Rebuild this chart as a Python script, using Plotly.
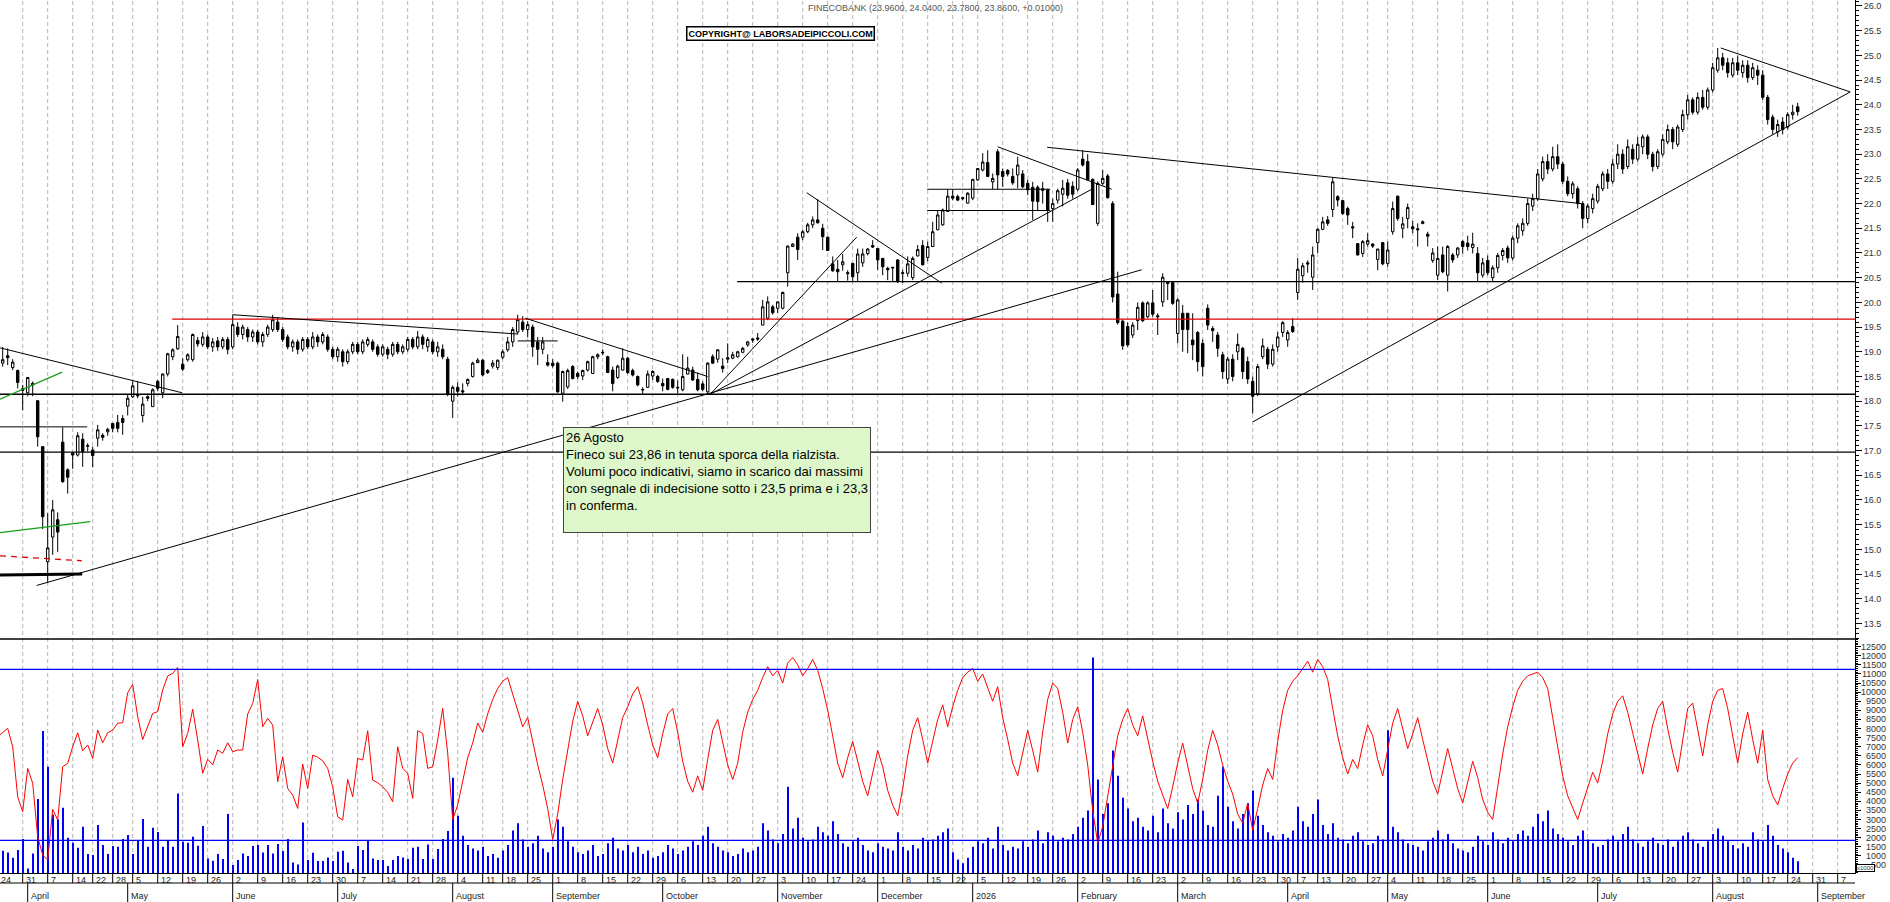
import pandas as pd
import plotly.graph_objects as go

# trading sessions (Borsa Italiana closures removed)
holidays = ["2025-04-18", "2025-04-21", "2025-05-01", "2025-08-15", "2025-12-24", "2025-12-25",
            "2025-12-26", "2025-12-31", "2026-01-01", "2026-04-03", "2026-04-06", "2026-05-01"]
sessions = pd.bdate_range("2025-03-24", "2026-09-11")
sessions = sessions[~sessions.isin(pd.to_datetime(holidays))]

month_names = ["2026", "February", "March", "April", "May", "June", "July", "August",
               "September", "October", "November", "December"]

opens = [
    18.95, 18.77, 18.92, 18.68, 18.62, 18.25, 18.17, 18.36, 18.01, 17.08,
    14.75, 15.25, 15.60, 17.17, 16.61, 16.95, 16.91, 17.23, 17.10, 17.01,
    17.25, 17.31, 17.38, 17.55, 17.57, 17.65, 17.90, 18.09, 18.14, 17.71,
    18.09, 17.89, 18.40, 18.17, 18.55, 18.90, 19.06, 18.75, 18.84, 18.84,
    19.23, 19.15, 19.30, 19.10, 19.22, 19.10, 19.25, 19.10, 19.50, 19.35,
    19.45, 19.30, 19.40, 19.20, 19.35, 19.45, 19.60, 19.45, 19.30, 19.10,
    19.20, 19.05, 19.25, 19.10, 19.30, 19.20, 19.30, 19.05, 18.90, 19.00,
    18.80, 19.00, 19.15, 19.00, 19.15, 19.20, 19.10, 18.95, 19.05, 18.95,
    19.15, 19.00, 19.05, 19.25, 19.10, 19.30, 19.10, 19.20, 19.00, 19.05,
    18.85, 18.00, 18.28, 18.21, 18.36, 18.50, 18.78, 18.83, 18.62, 18.71,
    18.68, 18.89, 19.04, 19.20, 19.40, 19.60, 19.45, 19.50, 19.20, 19.05,
    18.78, 18.77, 18.77, 18.16, 18.29, 18.70, 18.56, 18.51, 18.63, 18.56,
    18.90, 18.99, 18.90, 18.63, 18.48, 18.63, 18.87, 18.62, 18.50, 18.24,
    18.28, 18.51, 18.50, 18.36, 18.46, 18.44, 18.28, 18.23, 18.55, 18.63,
    18.44, 18.35, 18.19, 18.90, 18.85, 18.71, 18.85, 18.87, 18.90, 18.99,
    19.14, 19.26, 19.28, 19.54, 19.68, 19.91, 19.88, 19.88, 20.60, 21.13,
    21.32, 21.32, 21.43, 21.57, 21.67, 21.50, 21.32, 20.78, 20.67, 20.76,
    20.58, 20.79, 20.60, 20.80, 20.99, 21.15, 21.09, 20.89, 20.69, 20.71,
    20.86, 20.60, 20.59, 20.50, 20.94, 21.15, 20.91, 21.13, 21.47, 21.57,
    21.84, 22.15, 22.14, 22.12, 22.01, 22.11, 22.48, 22.68, 22.83, 22.44,
    23.05, 22.65, 22.67, 22.55, 22.58, 22.60, 22.41, 22.33, 22.33, 22.30,
    22.28, 21.90, 22.07, 22.19, 22.42, 22.35, 22.29, 22.90, 22.85, 22.49,
    21.60, 22.41, 22.56, 22.00, 20.17, 19.62, 19.51, 19.34, 19.63, 19.99,
    19.71, 19.99, 19.73, 20.01, 20.41, 20.40, 19.37, 19.78, 19.78, 19.24,
    19.39, 19.17, 19.88, 19.47, 19.34, 18.94, 18.45, 18.85, 19.00, 19.07,
    18.80, 18.40, 18.15, 18.90, 19.05, 18.75, 19.10, 19.39, 19.24, 19.51,
    20.20, 20.54, 20.80, 20.51, 21.21, 21.48, 21.67, 21.88, 22.14, 22.06,
    21.90, 21.53, 21.19, 20.99, 21.18, 21.18, 20.87, 21.21, 20.79, 21.43,
    22.15, 21.50, 21.70, 21.53, 21.49, 21.63, 21.38, 20.85, 20.55, 20.96,
    20.55, 20.96, 20.96, 21.23, 21.20, 21.11, 20.99, 20.55, 20.85, 20.50,
    20.70, 20.95, 21.10, 20.90, 21.30, 21.45, 21.60, 21.95, 22.10, 22.50,
    22.85, 22.70, 22.95, 22.80, 22.45, 22.20, 22.30, 22.00, 21.70, 21.90,
    22.05, 22.30, 22.60, 22.45, 22.80, 23.00, 22.75, 23.10, 22.90, 23.15,
    23.35, 23.00, 22.75, 23.00, 23.25, 23.50, 23.20, 23.50, 23.80, 24.10,
    23.85, 24.15, 23.95, 24.30, 24.70, 24.95, 24.85, 24.60, 24.85, 24.65,
    24.80, 24.55, 24.70, 24.60, 24.15, 23.75, 23.45, 23.65, 23.55, 23.80,
    23.96,
]
highs = [
    19.15, 19.10, 19.07, 18.85, 18.64, 18.33, 18.49, 18.40, 18.02, 17.08,
    15.73, 16.00, 15.75, 17.47, 16.64, 16.96, 17.37, 17.35, 17.15, 17.08,
    17.52, 17.35, 17.46, 17.55, 17.72, 17.72, 18.13, 18.40, 18.40, 18.09,
    18.12, 18.26, 18.43, 18.56, 18.98, 19.07, 19.54, 18.87, 18.97, 19.37,
    19.30, 19.40, 19.35, 19.28, 19.30, 19.30, 19.30, 19.75, 19.60, 19.55,
    19.50, 19.45, 19.45, 19.40, 19.55, 19.75, 19.70, 19.50, 19.35, 19.25,
    19.25, 19.30, 19.30, 19.40, 19.35, 19.40, 19.35, 19.10, 19.10, 19.05,
    19.05, 19.20, 19.20, 19.25, 19.30, 19.25, 19.15, 19.15, 19.10, 19.20,
    19.20, 19.15, 19.30, 19.30, 19.42, 19.35, 19.30, 19.25, 19.20, 19.15,
    18.90, 18.32, 18.38, 18.36, 18.46, 18.80, 18.87, 18.85, 18.65, 18.83,
    18.84, 19.05, 19.30, 19.50, 19.75, 19.72, 19.62, 19.55, 19.30, 19.30,
    18.95, 18.85, 18.80, 18.62, 18.66, 18.73, 18.60, 18.64, 18.82, 18.92,
    18.97, 19.05, 18.92, 18.70, 18.74, 19.07, 18.90, 18.66, 18.52, 18.28,
    18.62, 18.63, 18.53, 18.46, 18.47, 18.46, 18.42, 18.95, 18.90, 18.70,
    18.58, 18.40, 18.79, 18.95, 19.05, 18.87, 19.17, 19.00, 19.02, 19.10,
    19.22, 19.27, 19.38, 20.05, 20.12, 19.95, 20.02, 20.22, 21.15, 21.20,
    21.40, 21.47, 21.61, 21.74, 22.09, 21.59, 21.33, 20.93, 20.86, 20.98,
    20.65, 20.80, 21.09, 21.09, 21.10, 21.26, 21.10, 20.90, 20.72, 20.72,
    20.87, 20.66, 20.93, 20.93, 21.16, 21.26, 21.23, 21.63, 21.87, 21.90,
    22.29, 22.28, 22.18, 22.14, 22.23, 22.50, 22.72, 23.02, 23.08, 22.61,
    23.10, 22.71, 22.70, 22.71, 22.95, 22.68, 22.48, 22.44, 22.37, 22.44,
    22.30, 22.10, 22.30, 22.48, 22.50, 22.45, 22.72, 23.08, 23.00, 22.51,
    22.45, 22.68, 22.60, 22.05, 20.62, 19.65, 19.60, 19.60, 20.00, 20.02,
    20.02, 20.25, 19.78, 20.59, 20.42, 20.42, 20.08, 19.95, 19.78, 19.78,
    19.42, 19.25, 19.96, 19.52, 19.40, 19.00, 18.90, 18.95, 19.37, 19.10,
    18.90, 18.50, 18.75, 19.27, 19.10, 19.15, 19.40, 19.62, 19.44, 19.68,
    20.90, 20.80, 20.85, 21.13, 21.50, 21.73, 21.75, 22.53, 22.17, 22.07,
    21.94, 21.63, 21.20, 21.26, 21.40, 21.20, 21.08, 21.22, 21.23, 22.04,
    22.16, 21.73, 22.00, 21.65, 21.60, 21.66, 21.43, 21.10, 21.13, 21.13,
    21.16, 21.00, 21.12, 21.26, 21.35, 21.41, 21.12, 20.90, 20.95, 20.75,
    21.00, 21.10, 21.15, 21.35, 21.60, 21.70, 22.10, 22.20, 22.70, 22.95,
    23.00, 23.15, 23.20, 22.85, 22.55, 22.45, 22.35, 22.05, 22.00, 22.20,
    22.40, 22.65, 22.70, 22.90, 23.20, 23.10, 23.30, 23.20, 23.35, 23.40,
    23.40, 23.05, 23.10, 23.40, 23.60, 23.55, 23.60, 23.90, 24.20, 24.15,
    24.25, 24.30, 24.35, 24.85, 25.15, 25.05, 24.95, 24.95, 25.00, 24.90,
    24.90, 24.85, 24.80, 24.70, 24.20, 23.80, 23.70, 23.75, 23.85, 24.00,
    24.04,
]
lows = [
    18.85, 18.70, 18.73, 18.63, 18.26, 17.82, 18.10, 18.10, 17.08, 15.41,
    14.32, 14.89, 14.95, 16.35, 16.13, 16.63, 16.88, 16.67, 16.98, 16.66,
    17.08, 17.20, 17.30, 17.37, 17.37, 17.32, 17.71, 18.06, 18.06, 17.57,
    18.00, 17.89, 18.20, 18.06, 18.50, 18.83, 19.04, 18.61, 18.80, 18.80,
    19.10, 19.10, 19.05, 19.00, 19.02, 19.05, 18.95, 19.05, 19.30, 19.25,
    19.20, 19.20, 19.15, 19.10, 19.30, 19.40, 19.40, 19.20, 19.05, 19.00,
    18.95, 19.00, 19.05, 19.05, 19.10, 19.15, 19.00, 18.85, 18.80, 18.70,
    18.75, 18.95, 18.95, 18.95, 19.10, 19.00, 18.90, 18.90, 18.85, 18.90,
    18.95, 18.95, 19.00, 19.05, 19.05, 19.05, 19.00, 18.95, 18.90, 18.85,
    18.10, 17.66, 18.10, 18.12, 18.30, 18.48, 18.77, 18.50, 18.55, 18.66,
    18.63, 18.85, 19.00, 19.10, 19.35, 19.40, 19.30, 18.90, 18.73, 18.95,
    18.70, 18.68, 18.17, 17.99, 18.25, 18.44, 18.45, 18.43, 18.60, 18.55,
    18.85, 18.93, 18.57, 18.20, 18.45, 18.62, 18.55, 18.50, 18.30, 18.15,
    18.27, 18.43, 18.37, 18.20, 18.22, 18.25, 18.16, 18.20, 18.54, 18.41,
    18.20, 18.20, 18.13, 18.76, 18.78, 18.58, 18.77, 18.85, 18.88, 18.97,
    19.10, 19.18, 19.22, 19.54, 19.64, 19.75, 19.78, 19.86, 20.32, 21.12,
    20.86, 21.26, 21.40, 21.50, 21.60, 21.06, 21.04, 20.62, 20.42, 20.64,
    20.44, 20.42, 20.42, 20.72, 20.95, 21.10, 20.66, 20.55, 20.45, 20.41,
    20.39, 20.39, 20.52, 20.45, 20.93, 20.75, 20.83, 21.12, 21.46, 21.55,
    21.83, 22.07, 22.05, 22.07, 22.00, 22.07, 22.46, 22.65, 22.54, 22.29,
    22.29, 22.34, 22.55, 22.38, 22.31, 22.31, 22.17, 21.67, 21.87, 22.00,
    21.63, 21.63, 22.00, 21.94, 22.10, 22.10, 22.25, 22.75, 22.48, 21.97,
    21.55, 22.38, 22.10, 20.00, 19.55, 19.04, 19.10, 19.28, 19.44, 19.60,
    19.68, 19.71, 19.34, 19.91, 20.05, 19.95, 19.17, 19.00, 18.97, 18.83,
    18.60, 18.50, 19.44, 19.20, 18.90, 18.45, 18.35, 18.40, 18.83, 18.45,
    18.35, 17.75, 18.10, 18.85, 18.65, 18.70, 19.00, 19.30, 19.10, 19.38,
    20.05, 20.40, 20.60, 20.25, 21.00, 21.46, 21.55, 21.73, 21.94, 21.77,
    21.57, 21.30, 20.95, 20.92, 21.13, 21.10, 20.65, 20.75, 20.72, 21.37,
    21.65, 21.30, 21.50, 21.40, 21.13, 21.58, 21.13, 20.80, 20.45, 20.59,
    20.22, 20.80, 20.90, 20.99, 21.05, 20.99, 20.42, 20.50, 20.55, 20.43,
    20.60, 20.85, 20.80, 20.85, 21.20, 21.35, 21.55, 21.85, 22.05, 22.45,
    22.60, 22.65, 22.70, 22.40, 22.15, 22.10, 21.90, 21.50, 21.60, 21.80,
    22.00, 22.25, 22.30, 22.40, 22.70, 22.60, 22.70, 22.80, 22.85, 23.00,
    22.90, 22.65, 22.70, 22.95, 23.20, 23.10, 23.15, 23.45, 23.70, 23.80,
    23.80, 23.90, 23.90, 24.25, 24.65, 24.70, 24.55, 24.55, 24.60, 24.55,
    24.45, 24.50, 24.40, 24.10, 23.60, 23.40, 23.35, 23.40, 23.50, 23.70,
    23.78,
]
closes = [
    19.05, 18.84, 18.88, 18.79, 18.38, 18.22, 18.48, 18.33, 17.28, 15.66,
    15.03, 15.80, 15.35, 16.37, 16.46, 16.91, 17.30, 16.98, 17.09, 16.90,
    17.42, 17.27, 17.43, 17.45, 17.45, 17.57, 18.06, 18.31, 18.11, 17.94,
    18.06, 18.23, 18.26, 18.55, 18.96, 19.04, 19.31, 18.65, 18.94, 19.35,
    19.16, 19.30, 19.10, 19.20, 19.10, 19.25, 19.05, 19.55, 19.35, 19.50,
    19.30, 19.40, 19.20, 19.35, 19.50, 19.65, 19.45, 19.25, 19.10, 19.20,
    19.05, 19.25, 19.10, 19.30, 19.20, 19.35, 19.05, 18.90, 19.05, 18.80,
    19.00, 19.15, 19.00, 19.20, 19.25, 19.05, 18.95, 19.10, 18.95, 19.15,
    19.00, 19.10, 19.25, 19.10, 19.30, 19.15, 19.25, 19.00, 19.10, 18.90,
    18.15, 18.28, 18.20, 18.19, 18.44, 18.77, 18.83, 18.53, 18.58, 18.77,
    18.83, 19.00, 19.20, 19.45, 19.65, 19.45, 19.55, 19.10, 19.05, 19.20,
    18.73, 18.72, 18.19, 18.60, 18.62, 18.46, 18.50, 18.62, 18.80, 18.90,
    18.94, 18.98, 18.58, 18.36, 18.71, 18.87, 18.58, 18.53, 18.33, 18.23,
    18.55, 18.60, 18.40, 18.31, 18.24, 18.28, 18.27, 18.50, 18.67, 18.43,
    18.23, 18.24, 18.77, 18.77, 19.04, 18.66, 18.88, 18.94, 19.00, 19.07,
    19.20, 19.24, 19.26, 19.91, 20.01, 19.79, 20.01, 20.20, 21.14, 21.18,
    21.07, 21.43, 21.57, 21.67, 21.61, 21.33, 21.05, 20.64, 20.62, 20.82,
    20.60, 20.52, 20.98, 20.98, 21.08, 21.12, 20.86, 20.72, 20.66, 20.70,
    20.42, 20.59, 20.78, 20.89, 21.07, 20.76, 21.13, 21.43, 21.77, 21.87,
    22.15, 22.11, 22.07, 22.10, 22.21, 22.49, 22.71, 22.84, 22.55, 22.51,
    22.58, 22.55, 22.60, 22.42, 22.78, 22.34, 22.28, 22.05, 22.04, 22.27,
    21.87, 22.00, 22.26, 22.31, 22.17, 22.19, 22.68, 22.78, 22.48, 21.98,
    22.41, 22.51, 22.12, 20.11, 19.59, 19.12, 19.14, 19.54, 19.90, 19.63,
    19.99, 19.76, 19.71, 20.51, 20.38, 19.98, 20.05, 19.45, 19.45, 19.14,
    18.80, 18.70, 19.54, 19.43, 19.07, 18.60, 18.85, 18.50, 19.15, 18.60,
    18.45, 18.10, 18.70, 19.12, 18.75, 19.05, 19.30, 19.59, 19.39, 19.41,
    20.67, 20.74, 20.78, 20.96, 21.48, 21.63, 21.60, 22.44, 22.07, 21.80,
    21.77, 21.51, 20.96, 21.23, 21.25, 21.14, 21.08, 20.78, 21.06, 21.90,
    21.70, 21.59, 21.92, 21.49, 21.47, 21.60, 21.34, 21.00, 20.89, 20.62,
    21.13, 20.86, 21.10, 21.13, 21.13, 21.18, 20.60, 20.80, 20.60, 20.70,
    20.95, 21.05, 20.90, 21.30, 21.55, 21.60, 22.00, 22.10, 22.60, 22.85,
    22.70, 22.95, 22.80, 22.45, 22.20, 22.40, 22.00, 21.70, 21.95, 22.10,
    22.35, 22.60, 22.45, 22.80, 23.00, 22.70, 23.15, 22.90, 23.20, 23.35,
    23.00, 22.75, 23.05, 23.30, 23.50, 23.25, 23.55, 23.80, 24.10, 23.85,
    24.15, 23.95, 24.30, 24.75, 24.95, 24.80, 24.65, 24.85, 24.70, 24.80,
    24.55, 24.75, 24.60, 24.15, 23.70, 23.50, 23.60, 23.50, 23.80, 23.85,
    23.86,
]
# volumes in thousands of shares
volumes = [
    1400, 1283, 1190, 900, 1320, 1925, 300, 1136, 4125, 7864,
    5900, 3280, 3000, 3650, 2000, 1723, 1450, 2600, 1100, 1045,
    2700, 1600, 1100, 1540, 1500, 1925, 2145, 1100, 1870, 3025,
    1500, 2550, 2310, 1500, 1815, 1500, 4436, 1778, 1723, 2053,
    1558, 2640, 860, 733, 1100, 825, 3300, 495, 770, 1136,
    990, 1540, 1595, 1190, 1595, 1136, 1650, 1265, 1925, 640,
    530, 2840, 770, 1173, 715, 715, 915, 715, 1228, 1283,
    640, 275, 1540, 1320, 1815, 860, 770, 770, 440, 770,
    990, 915, 825, 1450, 1500, 825, 1630, 825, 1375, 1925,
    2365, 5300, 3200, 2100, 1600, 1400, 1300, 1500, 1000, 1100,
    900, 1300, 1600, 2400, 2800, 1900, 1500, 1700, 2100, 1400,
    1200, 1500, 3000, 2600, 1800, 1500, 1200, 1100, 1300, 1600,
    1000, 1100, 1700, 2000, 1400, 1300, 1600, 1200, 1500, 1100,
    1300, 900, 1000, 1200, 1600, 1400, 1100, 1300, 1500, 1800,
    1600, 2100, 2600, 1700, 1500, 1300, 1200, 1000, 1100, 1400,
    1200, 1300, 1500, 2800, 2400, 1900, 1700, 2200, 4800, 2500,
    3100, 2000, 1800, 1900, 2600, 2300, 2100, 2900, 2200, 1700,
    1500, 1800, 2000, 1600, 1300, 1200, 1700, 1500, 1400, 1300,
    2300, 1500, 1300, 1600, 1400, 2000, 1800, 1900, 2100, 2300,
    2500, 1200, 800, 600, 900, 1500, 1800, 1700, 2000, 1400,
    2600, 1600, 1300, 1500, 1400, 1800, 1500, 1900, 2400, 1700,
    2300, 2100, 1800, 2000, 1900, 2200, 2600, 3100, 3500, 11900,
    5200, 3300, 3900, 6800, 5400, 4200, 3600, 2900, 3100, 2600,
    2400, 3200, 2300, 3600, 2800, 2500, 3400, 3000, 3800, 3300,
    4100, 3500, 2700, 2600, 4300, 5900, 3700, 2900, 2500, 3300,
    3900, 4600, 3200, 2700, 2300, 2100, 1800, 2200, 2000, 2400,
    3700, 2900, 2600, 3300, 4100, 2700, 2200, 2800, 2000, 1900,
    1700, 2100, 2300, 1800, 1600, 1700, 2100, 1900, 7900, 2600,
    2300, 1900, 1700, 1600, 1500, 1300, 1800, 2000, 2400, 1900,
    2200, 1700, 1400, 1300, 1200, 1500, 2100, 1800, 1600, 2300,
    1900, 1700, 2000, 1800, 2200, 2400, 2100, 2600, 3300, 2900,
    3500, 2500, 2200, 2000, 1800, 1600, 2100, 2400, 1900, 1700,
    1500, 1600, 1900, 2100, 1800, 2200, 2600, 1900, 1700, 1500,
    1800, 2000, 1700, 1600, 1900, 1500, 1800, 2100, 2300, 1900,
    1700, 1500, 1800, 2200, 2500, 2100, 1800, 1600, 1400, 1700,
    1500, 2300, 1900, 1800, 2700, 2100, 1600, 1400, 1200, 900,
    700,
]
# red oscillator plotted on the volume scale
oscillator = [
    7550, 7800, 8010, 7000, 4250, 3430, 5810, 4990, 2050, 1045,
    770, 3560, 2970, 5900, 6090, 7000, 7770, 6780, 7100, 6360,
    7920, 7220, 7770, 7920, 8290, 8320, 9970, 10430, 8650, 7400,
    8100, 8830, 8930, 10120, 10890, 11030, 11360, 7000, 7730, 9060,
    7370, 5540, 6310, 6000, 6820, 6640, 7220, 6730, 6820, 6820,
    8800, 9380, 10700, 8100, 8560, 8190, 5080, 6450, 4710, 4340,
    3610, 6050, 4710, 6540, 6420, 6230, 5810, 4800, 3150, 2970,
    5200, 4250, 6360, 6270, 7880, 5170, 5020, 4800, 4490, 3980,
    7000, 5810, 5540, 4160, 7880, 7730, 5810, 5900, 7370, 9110,
    6640, 3000, 3800, 5200, 6400, 7200, 8300, 7800, 8800, 9600,
    10200, 10600, 10800, 9900, 9000, 8100, 8600, 7200, 6000, 4900,
    3600, 1900, 3300, 5200, 6900, 8400, 9500, 8700, 7600, 8300,
    9100, 8200, 6900, 6100, 7400, 8600, 9200, 9900, 10300, 9400,
    8200, 7100, 6400, 7700, 8800, 9100, 7800, 6200, 5100, 4500,
    5400, 4600, 6300, 7900, 8500, 7300, 6000, 5200, 6100, 7800,
    8900, 9600, 10100, 10800, 11400, 10900, 11200, 10500, 11600, 11900,
    11500, 10900, 11300, 11800, 11200, 10200, 9000, 7600, 6100, 5300,
    6400, 7300, 6200, 5100, 4300, 5600, 6800, 5900, 4600, 3800,
    3200, 4700, 6500, 7900, 8600, 7400, 6100, 7300, 8500, 9300,
    8100, 9200, 10100, 10800, 11100, 11300, 10600, 11000, 10200, 9500,
    10300, 8600, 7400, 6100, 5400, 6700, 7900, 6800, 5600, 7800,
    9600, 10500, 10200, 8900, 7200, 8500, 9200, 7800, 6000, 3500,
    1700, 2600, 4300, 6100, 7600, 8500, 9100, 8200, 7600, 8700,
    7400, 6200, 5100, 4300, 3600, 4800, 6100, 7200, 5900, 4700,
    3900, 5200, 6800, 7900, 7100, 6000, 5100, 4400, 3300, 2800,
    3900, 2400, 3600, 4900, 5800, 5200, 7300, 9000, 10100, 10600,
    10900, 11300, 11700, 11100, 11800, 11400, 10700, 9100, 7600, 6400,
    5500, 6300, 5800, 7100, 8200, 7600, 6300, 5400, 6800, 8300,
    9100, 8000, 6900, 7700, 8600, 7400, 6200, 5100, 4400, 5600,
    6900, 5800, 4700, 3900, 5000, 6200, 5300, 4100, 3400, 3000,
    4800, 6600, 8100, 9200, 10100, 10600, 10900, 11000, 11100, 10800,
    10200, 8600, 7100, 5400, 4300, 3600, 3000, 3900, 4800, 5600,
    5000, 6200, 7700, 8800, 9500, 9800, 8900, 7800, 6600, 5500,
    6900, 8200, 9100, 9500, 8000, 6700, 5600, 7400, 9100, 9400,
    7900, 6500, 8200, 9500, 10100, 10200, 9100, 7600, 6100, 7700,
    8900, 7400, 6100, 7900, 5200, 4300, 3800, 4700, 5500, 6100,
    6400,
]
volume_ticks = list(range(500, 13000, 500))

# analysis lines on the price pane: (bar0, price0, bar1, price1)
trend_lines = [
    (0.46, 19.08, 36.9, 18.17),
    (7.8, 14.27, 228.8, 20.66),
    (142.5, 18.14, 219.0, 22.30),
    (142.5, 18.14, 171.8, 21.32),
    (47.0, 19.75, 104.0, 19.36),
    (104.0, 19.22, 112.0, 19.22),
    (105.5, 19.68, 142.0, 18.50),
    (161.8, 22.22, 188.8, 20.39),
    (185.9, 22.29, 210.5, 22.29),
    (185.9, 21.86, 210.5, 21.86),
    (200.0, 23.15, 222.8, 22.29),
    (209.9, 23.14, 316.7, 22.00),
    (251.0, 17.58, 370.5, 24.26),
    (344.6, 25.15, 370.5, 24.26),
    (0.46, 17.48, 17.9, 17.48),
]
green_lines = [(0.46, 18.04, 12.9, 18.59), (0.46, 15.34, 18.5, 15.56)]
black_levels = [(0.46, 18.14), (0.46, 16.97), (147.9, 20.42)]
red_level = (34.9, 19.66)
vol_levels = [11250, 1850]

assert len(opens) == len(highs) == len(lows) == len(closes) == len(volumes) == len(oscillator)

bars = list(range(len(closes)))
x_lo, x_hi = 0.46, 371.46
plot_w, plot_h = 1855, 873
font = "Liberation Sans, Arial, sans-serif"

fig = go.Figure()
fig.add_trace(go.Candlestick(
    x=bars, open=opens, high=highs, low=lows, close=closes,
    increasing=dict(line=dict(color="black", width=1), fillcolor="white"),
    decreasing=dict(line=dict(color="black", width=1), fillcolor="black"),
    whiskerwidth=0, xaxis="x", yaxis="y", hoverinfo="skip", showlegend=False))
fig.add_trace(go.Bar(x=bars, y=volumes, width=0.2, marker=dict(color="#0000ff", line=dict(width=0)),
                     xaxis="x", yaxis="y2", hoverinfo="skip", showlegend=False))
fig.add_trace(go.Scatter(x=bars, y=oscillator, mode="lines", line=dict(color="#ff0000", width=1),
                         xaxis="x", yaxis="y2", hoverinfo="skip", showlegend=False))

shapes = []


def seg(x0, y0, x1, y1, yref="y", color="black", width=1.0, dash="solid"):
    shapes.append(dict(type="line", xref="x", yref=yref, x0=x0, y0=y0, x1=x1, y1=y1,
                       line=dict(color=color, width=width, dash=dash)))


# week / month positions from the session calendar
week_pos, week_txt, month_pos, month_txt = [], [], [], []
prev_week, prev_month = None, None
for i, d in enumerate(sessions):
    wk = d.isocalendar()[:2]
    if wk != prev_week:
        week_pos.append(i)
        week_txt.append("" if d.year != (d + pd.Timedelta(days=6)).year else str(d.day))
        prev_week = wk
    if d.month != prev_month:
        if prev_month is not None:
            month_pos.append(i)
            month_txt.append(month_names[d.month - 1] if d.month != 1 else str(d.year))
        prev_month = d.month

for p in week_pos:
    if x_lo <= p <= x_hi:
        shapes.append(dict(type="line", xref="x", yref="paper", x0=p, x1=p, y0=0, y1=1, layer="below",
                           line=dict(color="#b4b4b4", width=1, dash="4px,3px")))
        shapes.append(dict(type="line", xref="x", yref="paper", x0=p, x1=p, y0=0, y1=-10 / plot_h,
                           line=dict(color="black", width=1)))
for p in month_pos:
    shapes.append(dict(type="line", xref="x", yref="paper", x0=p, x1=p, y0=-10 / plot_h, y1=-29 / plot_h,
                       line=dict(color="black", width=1)))
shapes.append(dict(type="line", xref="paper", yref="paper", x0=0, x1=1, y0=-10 / plot_h, y1=-10 / plot_h,
                   line=dict(color="black", width=1)))
# pane separator
shapes.append(dict(type="line", xref="paper", yref="paper", x0=0, x1=1, y0=234 / plot_h, y1=234 / plot_h,
                   line=dict(color="black", width=1.3)))

for x0, lvl in black_levels:
    seg(x0, lvl, x_hi, lvl, width=1.3)
seg(red_level[0], red_level[1], x_hi, red_level[1], color="#e00000", width=1.3)
for x0, y0, x1, y1 in trend_lines:
    seg(x0, y0, x1, y1, width=1)
for x0, y0, x1, y1 in green_lines:
    seg(x0, y0, x1, y1, color="#1a9a1a", width=1.3)
seg(0.46, 14.48, 16.9, 14.50, width=3)
seg(0.46, 14.87, 16.8, 14.77, color="#e00000", width=1.3, dash="6px,5px")
for v in vol_levels:
    seg(x_lo, v, x_hi, v, yref="y2", color="#0000ff", width=1.3)

annotations = []
for p, t in zip(week_pos, week_txt):
    if p <= x_hi and t:
        annotations.append(dict(x=max(p, x_lo), y=0, xref="x", yref="paper", text=t, showarrow=False,
                                xanchor="left", yanchor="top", xshift=1 if p >= x_lo else -1, yshift=0,
                                font=dict(family=font, size=9, color="#222")))
for p, t in zip(month_pos, month_txt):
    annotations.append(dict(x=p, y=0, xref="x", yref="paper", text=t, showarrow=False,
                            xanchor="left", yanchor="top", xshift=1, yshift=-16,
                            font=dict(family=font, size=9, color="#222")))
# volume scale labels, right aligned like the reference
for v in volume_ticks:
    annotations.append(dict(x=1888 / plot_w, y=v, xref="paper", yref="y2", text=str(v), showarrow=False,
                            xanchor="right", yanchor="middle", font=dict(family=font, size=9, color="#333")))

annotations.append(dict(x=806 / plot_w, y=1, xref="paper", yref="paper", showarrow=False,
                        text="FINECOBANK (23.9600, 24.0400, 23.7800, 23.8600, +0.01000)",
                        xanchor="left", yanchor="top", yshift=-1,
                        font=dict(family=font, size=9, color="#555")))
annotations.append(dict(x=780 / plot_w, y=(plot_h - 33.5) / plot_h, xref="paper", yref="paper",
                        showarrow=False, text="<b>COPYRIGHT@ LABORSADEIPICCOLI.COM</b>",
                        xanchor="center", yanchor="middle", bgcolor="white", bordercolor="black",
                        borderwidth=1.5, borderpad=1, font=dict(family=font, size=9, color="black")))
note = ["26 Agosto",
        "Fineco sui 23,86 in tenuta sporca della rialzista.",
        "Volumi poco indicativi, siamo in scarico dai massimi",
        "con segnale di indecisione sotto i 23,5 prima e i 23,3",
        "in conferma.", " "]
annotations.append(dict(x=563 / plot_w, y=(plot_h - 427) / plot_h, xref="paper", yref="paper",
                        showarrow=False, text="<br>".join(note), align="left",
                        xanchor="left", yanchor="top", bgcolor="#ddf7cb", bordercolor="#444",
                        borderwidth=1, borderpad=2, font=dict(family=font, size=13, color="black")))
annotations.append(dict(x=1856 / plot_w, y=0, xref="paper", yref="paper", showarrow=False,
                        text="x1000", xanchor="left", yanchor="bottom", yshift=1, bordercolor="black",
                        borderwidth=1, borderpad=0, bgcolor="white",
                        font=dict(family=font, size=6, color="#333")))

axis_font = dict(family=font, size=9, color="#333")
fig.update_layout(
    width=1890, height=902, margin=dict(l=0, r=35, t=0, b=29),
    paper_bgcolor="white", plot_bgcolor="white", showlegend=False,
    xaxis=dict(range=[x_lo, x_hi], domain=[0, 1], anchor="y2", showgrid=False, zeroline=False,
               showticklabels=False, ticks="", showline=True, linecolor="black", linewidth=1,
               rangeslider=dict(visible=False)),
    yaxis=dict(domain=[234 / plot_h, 1], range=[13.186, 26.121], side="right", anchor="x",
               tickmode="linear", tick0=0, dtick=0.5, tickformat=".1f", ticks="outside", ticklen=6,
               tickcolor="black", minor=dict(dtick=0.1, tick0=0, ticks="outside", ticklen=3,
                                             tickcolor="black"),
               showline=True, linecolor="black", linewidth=1, showgrid=False, zeroline=False,
               tickfont=axis_font),
    yaxis2=dict(domain=[0, 234 / plot_h], range=[59, 12923], side="right", anchor="x",
                tickmode="linear", tick0=0, dtick=500, showticklabels=False, ticks="outside",
                ticklen=5, tickcolor="black",
                minor=dict(dtick=100, tick0=0, ticks="outside", ticklen=2, tickcolor="black"),
                showline=True, linecolor="black", linewidth=1, showgrid=False, zeroline=False),
    shapes=shapes, annotations=annotations,
)

fig.write_html("out.html", config={"displayModeBar": False},
               post_script="document.body.style.margin='0';")
